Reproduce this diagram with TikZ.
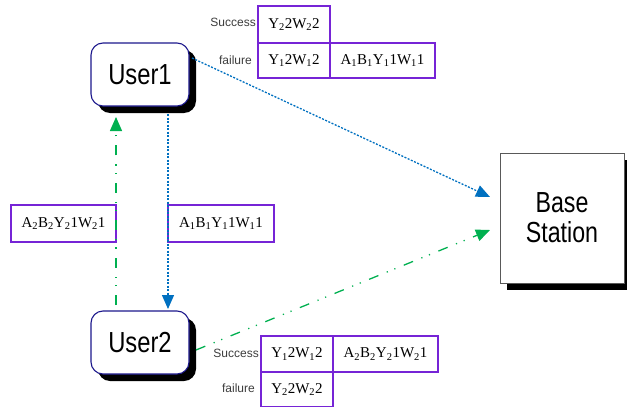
\documentclass[tikz,border=0pt]{standalone}
\usepackage{fontspec}
\setmainfont{Liberation Serif}
\setsansfont{Liberation Sans}
\usetikzlibrary{arrows.meta,shadows}
\definecolor{cellpurple}{RGB}{118,36,214}
\definecolor{usernavy}{RGB}{28,24,140}
\definecolor{linkblue}{RGB}{0,112,192}
\definecolor{linkgreen}{RGB}{0,176,80}
\definecolor{labelgray}{RGB}{60,60,60}
\newcommand{\lowidx}[1]{\textsubscript{#1}}
\tikzset{
  userbox/.style={draw=usernavy, line width=1.1pt, fill=white, rounded corners=12pt,
    minimum width=98pt, minimum height=63pt, inner sep=0pt, outer sep=0pt,
    drop shadow={shadow xshift=7pt, shadow yshift=-7pt, fill=black, opacity=1},
    font=\sffamily\fontsize{29}{32}\selectfont},
  stationbox/.style={draw=black!65, line width=0.8pt, fill=white,
    minimum width=124pt, minimum height=130pt, inner sep=0pt, outer sep=0pt,
    drop shadow={shadow xshift=7pt, shadow yshift=-7pt, fill=black, opacity=1},
    font=\sffamily\fontsize{29}{34}\selectfont, align=center},
  cell/.style={draw=cellpurple, line width=1.4pt, inner sep=0pt, outer sep=0pt,
    font=\fontsize{15}{18}\selectfont},
  rowlabel/.style={anchor=east, inner sep=0pt, text=labelgray,
    font=\sffamily\fontsize{12}{14}\selectfont},
  bluelink/.style={draw=linkblue, line width=1.3pt, dash pattern=on 2pt off 1.5pt,
    -{Triangle[length=14pt,width=12pt]}},
  greenlink/.style={draw=linkgreen, line width=1.3pt,
    dash pattern=on 10pt off 9pt on 1.2pt off 7pt on 1.2pt off 9pt,
    -{Triangle[length=14pt,width=12pt]}}
}
\begin{document}
\begin{tikzpicture}[x=1pt,y=-1pt]
\useasboundingbox (0,0) rectangle (627,407);

% terminals and base station
\node[userbox] (user1) at (140,74.5) {\scalebox{0.82}[1]{User1}};
\node[userbox] (user2) at (140,342.5) {\scalebox{0.82}[1]{User2}};
\node[stationbox] (bs) at (562,218) {\scalebox{0.8}[1]{Base}\\[-4pt]\scalebox{0.8}[1]{Station}};

% table beside User1
\node[cell, minimum width=72pt, minimum height=37pt] (t11) at (294,24.5) {Y\lowidx{2}2W\lowidx{2}2};
\node[cell, minimum width=72pt, minimum height=35pt] (t21) at (294,60.5) {Y\lowidx{1}2W\lowidx{1}2};
\node[cell, minimum width=105pt, minimum height=35pt] (t22) at (382.5,60.5) {A\lowidx{1}B\lowidx{1}Y\lowidx{1}1W\lowidx{1}1};
\node[rowlabel] (tsucc) at (256,22) {Success};
\node[rowlabel] (tfail) at (252,60) {failure};

% table beside User2
\node[cell, minimum width=72pt, minimum height=36pt] (b11) at (297,354) {Y\lowidx{1}2W\lowidx{1}2};
\node[cell, minimum width=105pt, minimum height=36pt] (b12) at (385.5,354) {A\lowidx{2}B\lowidx{2}Y\lowidx{2}1W\lowidx{2}1};
\node[cell, minimum width=72pt, minimum height=35pt] (b21) at (297,389.5) {Y\lowidx{2}2W\lowidx{2}2};
\node[rowlabel] (bsucc) at (259,353) {Success};
\node[rowlabel] (bfail) at (255,388) {failure};

% packet labels between the users
\node[cell, minimum width=105pt, minimum height=37pt] (p2) at (63.5,223.5) {A\lowidx{2}B\lowidx{2}Y\lowidx{2}1W\lowidx{2}1};
\node[cell, minimum width=106pt, minimum height=37pt] (p1) at (221,223.5) {A\lowidx{1}B\lowidx{1}Y\lowidx{1}1W\lowidx{1}1};

% link end points
\coordinate (u1right) at (192,58);
\coordinate (u1down) at (168,114);
\coordinate (u1up) at (116,117);
\coordinate (u2top) at (168,309);
\coordinate (u2up) at (116,305);
\coordinate (u2right) at (196,350);
\coordinate (bsin1) at (490,197);
\coordinate (bsin2) at (490,230);

% links
\draw[bluelink] (u1right) -- (bsin1);
\draw[bluelink] (u1down) -- (u2top);
\draw[greenlink] (u2up) -- (u1up);
\draw[greenlink] (u2right) -- (bsin2);
\end{tikzpicture}
\end{document}
